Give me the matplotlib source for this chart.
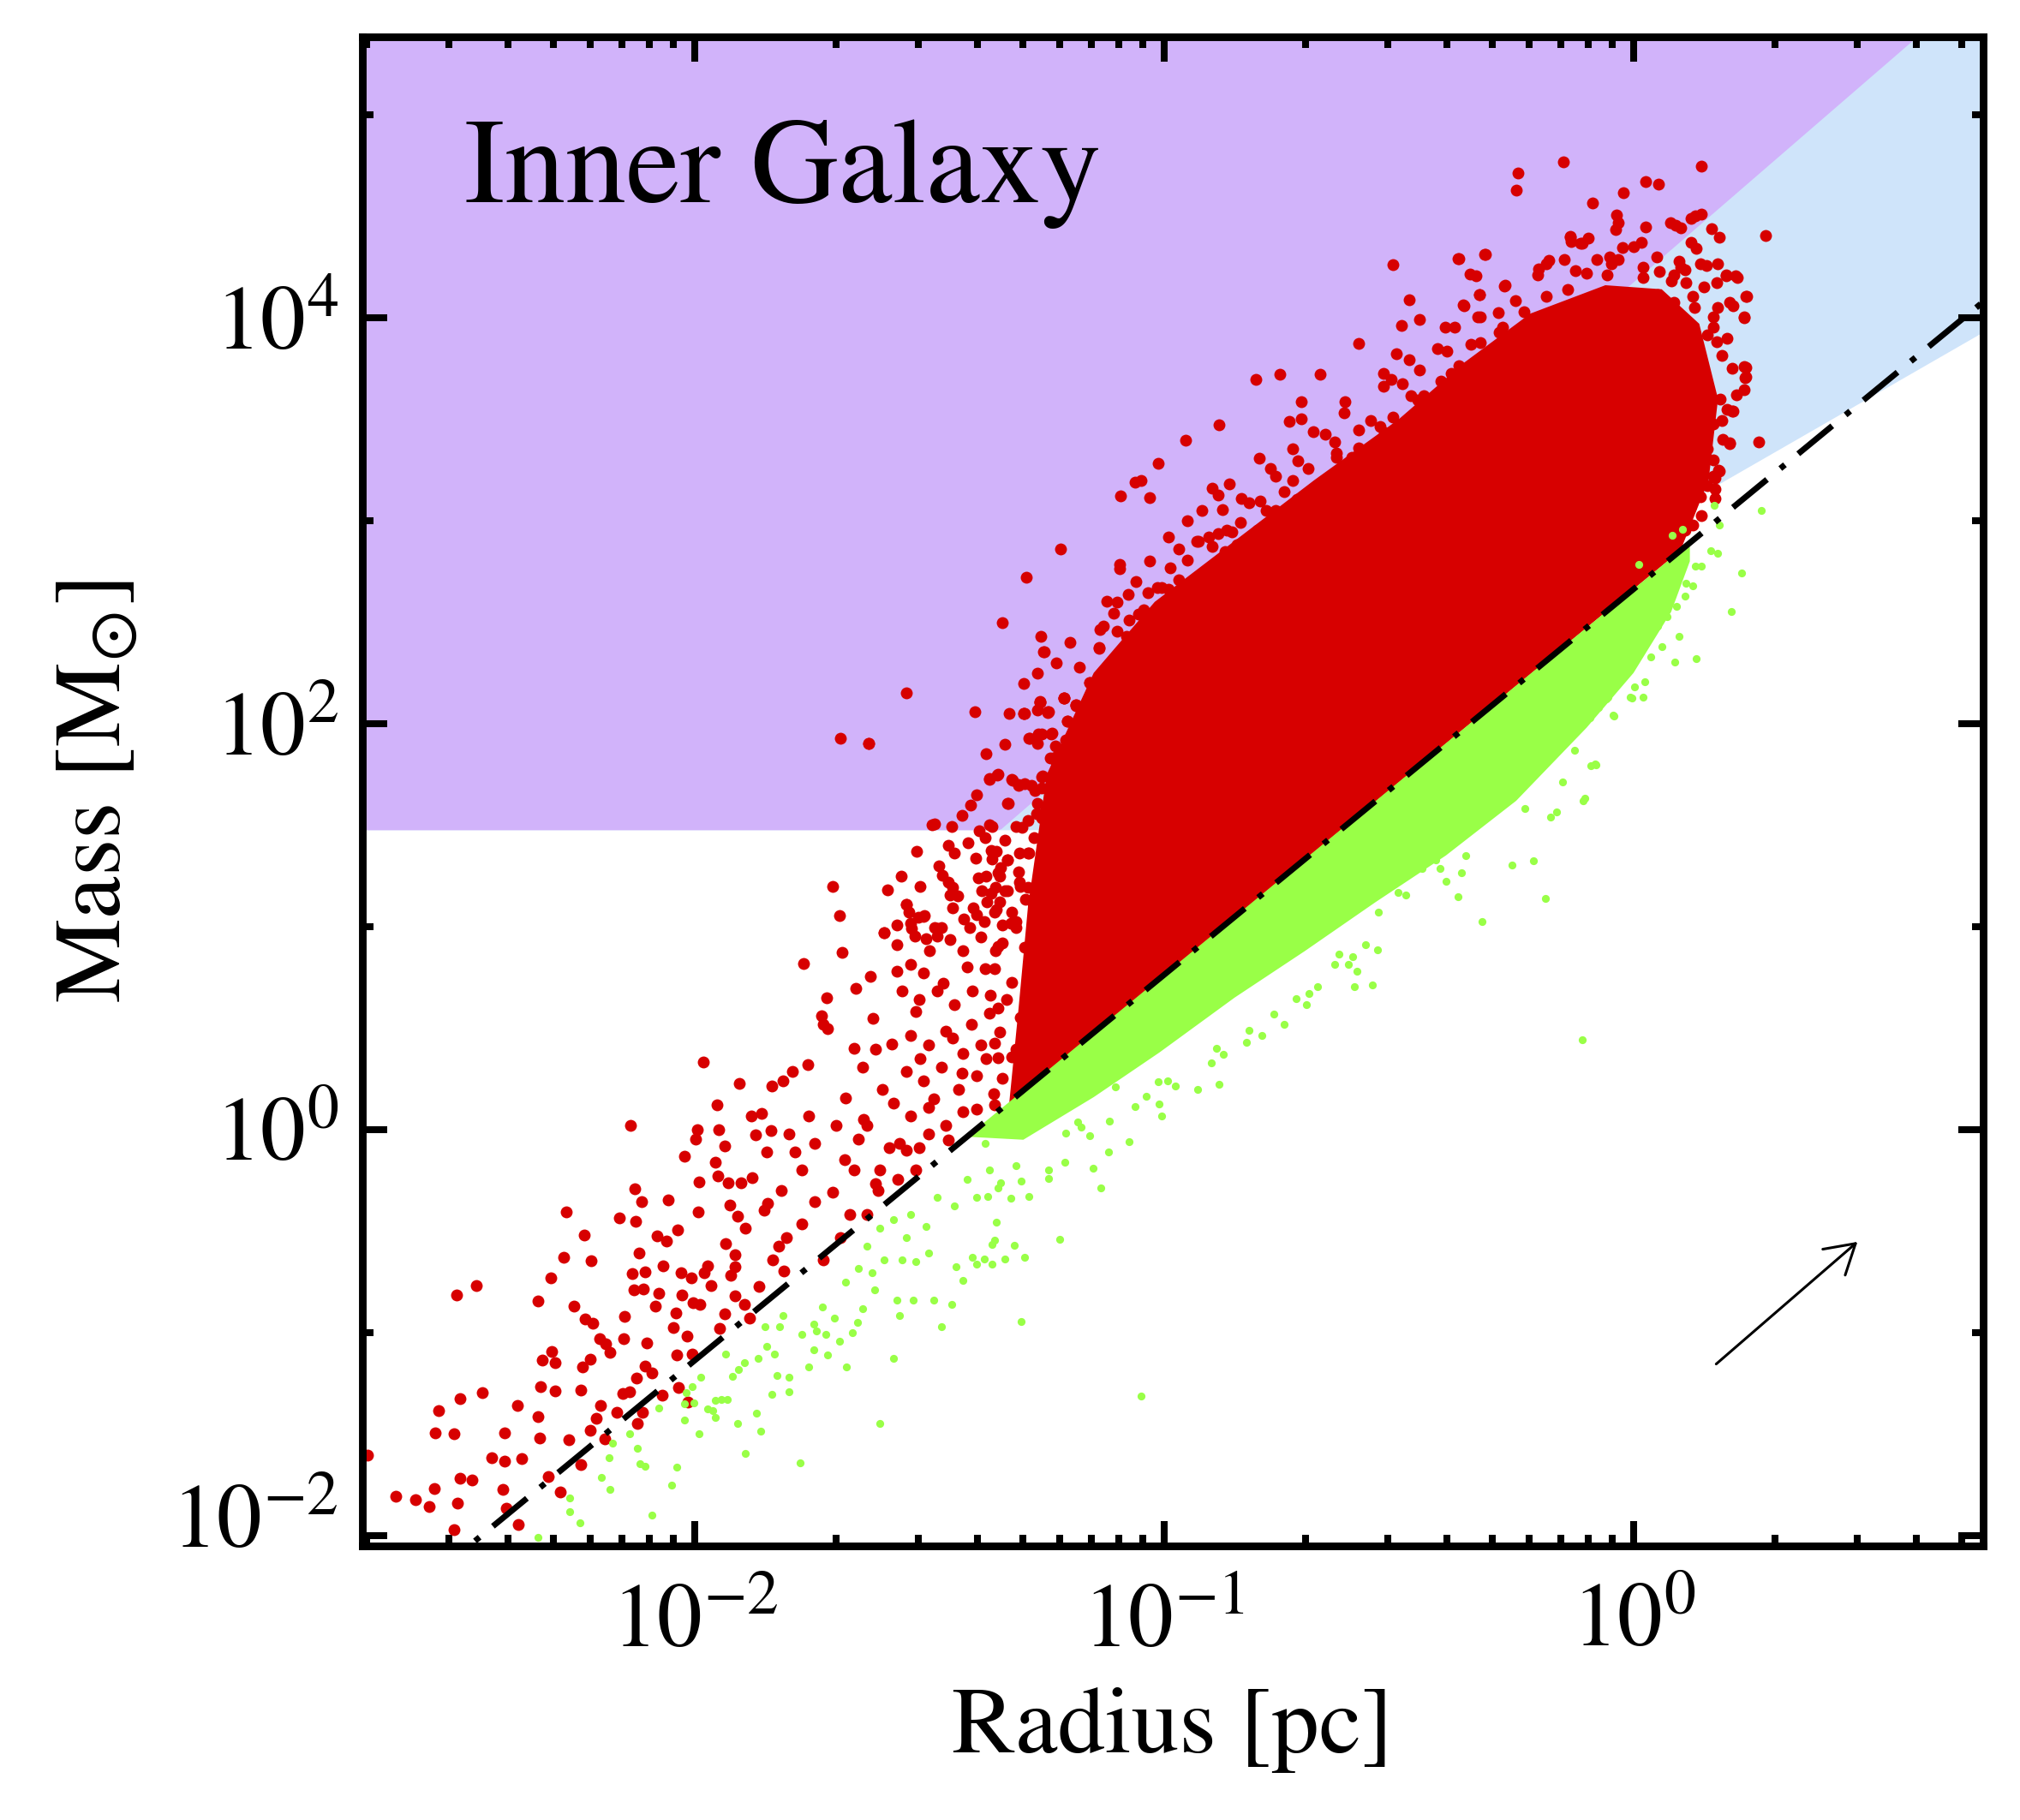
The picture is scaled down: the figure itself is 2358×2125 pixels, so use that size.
import numpy as np
import matplotlib
matplotlib.use("Agg")
import matplotlib.pyplot as plt
from matplotlib.transforms import ScaledTranslation

plt.rcParams['font.family'] = ['STIXGeneral', 'DejaVu Serif']
plt.rcParams['mathtext.fontset'] = 'stix'

# ---------------- axis setup ----------------
X_LIM = (10 ** -2.708, 10 ** 0.745)
Y_LIM = (10 ** -2.051, 10 ** 5.384)
X_MAJOR = [1e-2, 1e-1, 1e0]
X_MAJOR_LABELS = [r'$10^{-2}$', r'$10^{-1}$', r'$10^{0}$']
X_MINOR = [2e-3, 3e-3, 4e-3, 5e-3, 6e-3, 7e-3, 8e-3, 9e-3,
           2e-2, 3e-2, 4e-2, 5e-2, 6e-2, 7e-2, 8e-2, 9e-2,
           0.2, 0.3, 0.4, 0.5, 0.6, 0.7, 0.8, 0.9,
           2.0, 3.0, 4.0, 5.0]
Y_MAJOR = [1e-2, 1e0, 1e2, 1e4]
Y_MAJOR_LABELS = [r'$10^{-2}$', r'$10^{0}$', r'$10^{2}$', r'$10^{4}$']
Y_MINOR = [1e-1, 1e1, 1e3, 1e5]

# ---------------- threshold relations ----------------
MASS_FLOOR = 30.0            # Msun, lower edge of shaded regions
SIGMA_COEFF = 15048.0        # M = coeff * R^2  (1 g cm^-2)
KP_COEFF, KP_EXP = 870.0, 1.33   # Kauffmann & Pillai
LARSON_COEFF, LARSON_EXP = 460.0, 1.9

# arrow (distance x2)
ARROW_START = (1.5, 0.07)
ARROW_END = (3.0, 0.28)

# ---------------- dense cores (log10 R, log10 M) ----------------
RED_CORE = [(-1.33, 0.13), (-1.31, 0.60), (-1.29, 1.10), (-1.25, 1.75), (-1.15, 2.25),
            (-1.02, 2.60), (-0.85, 2.90), (-0.68, 3.20), (-0.50, 3.50), (-0.36, 3.78),
            (-0.22, 4.02), (-0.06, 4.16), (0.06, 4.14), (0.14, 3.97), (0.18, 3.60),
            (0.16, 3.20), (0.10, 2.853)]
GREEN_CORE = [(-1.42, -0.035), (0.12, 2.891), (0.12, 2.80), (0.08, 2.55), (0.00, 2.25),
              (-0.10, 1.98), (-0.25, 1.62), (-0.40, 1.35), (-0.55, 1.12), (-0.70, 0.88),
              (-0.85, 0.65), (-1.01, 0.38), (-1.15, 0.16), (-1.30, -0.05)]

# ---------------- red sources (log10 R, log10 M) ----------------
RED_LOW = [
    (-2.697, -1.602), (-2.636, -1.807), (-2.594, -1.825), (-2.566, -1.856), (-2.554, -1.767),
    (-2.553, -1.494), (-2.545, -1.383), (-2.512, -1.500), (-2.508, -0.813), (-2.505, -1.840),
    (-2.513, -1.973), (-2.500, -1.326), (-2.500, -1.719), (-2.474, -1.728), (-2.465, -0.769),
    (-2.453, -1.295), (-2.433, -1.615), (-2.409, -1.772), (-2.406, -1.496), (-2.406, -1.635),
    (-2.401, -1.867), (-2.377, -1.359), (-2.375, -1.944), (-2.369, -1.619), (-2.334, -0.844),
    (-2.334, -1.416), (-2.331, -1.520), (-2.329, -1.266), (-2.325, -1.136), (-2.312, -1.710),
    (-2.307, -0.732), (-2.305, -1.092), (-2.297, -1.149), (-2.297, -1.286), (-2.287, -1.785),
    (-2.279, -0.630), (-2.273, -0.407), (-2.268, -1.529), (-2.257, -0.871), (-2.242, -1.650),
    (-2.242, -1.284), (-2.239, -1.171), (-2.235, -0.520), (-2.233, -0.935), (-2.220, -0.646),
    (-2.217, -0.955), (-2.223, -1.131), (-2.223, -1.482), (-2.210, -1.421), (-2.203, -1.028),
    (-2.201, -1.357), (-2.192, -1.524), (-2.189, -1.054), (-2.181, -1.096), (-2.166, -1.394),
    (-2.160, -0.434), (-2.153, -1.301), (-2.151, -1.028), (-2.150, -0.922), (-2.139, -1.290),
    (-2.136, 0.019), (-2.134, -0.710), (-2.130, -0.791), (-2.128, -0.290), (-2.126, -0.454),
    (-2.124, -1.224), (-2.122, -1.449), (-2.119, -0.608), (-2.113, -0.354), (-2.111, -1.392),
    (-2.109, -0.787), (-2.106, -0.701), (-2.103, -1.052), (-2.105, -1.164), (-2.091, -1.200),
    (-2.084, -0.869), (-2.080, -0.524), (-2.076, -0.807), (-2.069, -1.308), (-2.067, -0.670),
    (-2.060, -0.548), (-2.056, -0.345), (-2.045, -0.975), (-2.040, -0.904), (-2.038, -1.109),
    (-2.035, -1.270), (-2.036, -0.493), (-2.030, -0.707), (-2.028, -0.813), (-2.021, -0.133),
    (-2.017, -1.017), (-2.015, -1.341), (-2.008, -0.730), (-2.005, -1.105), (-2.003, -0.853),
    (-1.998, -0.047), (-1.994, 0.000), (-1.992, -0.405), (-1.990, -0.259), (-1.989, -0.862),
    (-1.982, 0.333), (-1.980, -0.703), (-1.972, -0.670), (-1.966, -0.767), (-1.957, -0.162),
    (-1.952, 0.121), (-1.951, -0.228), (-1.948, 0.000), (-1.947, -0.981), (-1.936, -0.080),
    (-1.936, -0.906), (-1.934, -0.560), (-1.926, -0.372), (-1.928, -0.264), (-1.923, -0.718),
    (-1.915, -0.818), (-1.914, -0.674), (-1.914, -0.615), (-1.909, -0.427), (-1.905, 0.227),
    (-1.902, -0.261), (-1.894, -0.862), (-1.893, -0.487), (-1.883, -0.928), (-1.879, 0.068),
    (-1.877, -0.235), (-1.870, -0.027), (-1.863, -0.774), (-1.858, 0.081), (-1.853, -0.398),
    (-1.847, -0.111), (-1.845, -0.365), (-1.838, -0.005), (-1.836, 0.213), (-1.834, -0.641),
    (-1.821, -0.575), (-1.816, -0.299), (-1.812, 0.242), (-1.810, -0.696), (-1.805, -0.531),
    (-1.799, -0.023), (-1.792, 0.286), (-1.786, -0.111), (-1.769, 0.820), (-1.759, 0.321),
    (-1.719, 0.648), (-1.707, 1.198), (-1.692, 1.055), (-1.686, 0.871), (-1.730, 0.562),
    (-1.726, 0.518), (-1.717, 0.496), (-1.758, 0.065), (-1.744, -0.067), (-1.772, -0.200),
    (-1.744, -0.354), (-1.772, -0.465), (-1.726, -0.641), (-1.689, -0.531), (-1.670, -0.420),
    (-1.656, 0.695), (-1.625, 0.754), (-1.597, 0.971), (-1.569, 0.909), (-1.549, 1.110),
    (-1.512, 1.052), (-1.540, 1.015), (-1.614, 0.397), (-1.642, 0.308), (-1.679, 0.154),
    (-1.633, 0.021), (-1.586, -0.089), (-1.661, -0.200), (-1.614, -0.266), (-1.651, -0.045),
    (-1.698, 0.021), (-1.707, -0.310),
]
RED_TAIL_DENSE = [
    (-1.540, 0.816), (-1.512, 0.772), (-1.484, 0.993), (-1.456, 0.938), (-1.428, 0.882),
    (-1.400, 1.059), (-1.381, 0.794), (-1.354, 0.904), (-1.326, 1.015), (-1.558, 0.684),
    (-1.521, 0.639), (-1.484, 0.684), (-1.447, 0.617), (-1.409, 0.684), (-1.372, 0.573),
    (-1.335, 0.639), (-1.540, 0.463), (-1.502, 0.419), (-1.465, 0.485), (-1.428, 0.375),
    (-1.391, 0.419), (-1.354, 0.352), (-1.316, 0.397), (-1.549, 0.286), (-1.512, 0.242),
    (-1.474, 0.308), (-1.437, 0.198), (-1.400, 0.264), (-1.363, 0.176), (-1.577, 0.132),
    (-1.540, 0.065), (-1.502, 0.110), (-1.465, 0.021), (-1.428, 0.087), (-1.563, -0.067),
    (-1.521, -0.089), (-1.605, -0.200), (-1.568, -0.244), (-1.530, -0.200), (-1.633, -0.420),
    (-1.502, -0.023),
    (-1.372, 1.501), (-1.367, 1.372), (-1.334, 1.329), (-1.288, 1.361), (-1.353, 1.264),
    (-1.307, 1.200), (-1.339, 1.178), (-1.260, 1.264), (-1.362, 1.070), (-1.316, 1.027),
    (-1.279, 1.113), (-1.344, 0.920), (-1.297, 0.898), (-1.260, 0.963), (-1.362, 0.791),
    (-1.325, 0.726), (-1.279, 0.791), (-1.353, 0.597), (-1.307, 0.554), (-1.260, 0.640),
    (-1.362, 0.425), (-1.325, 0.360), (-1.279, 0.468), (-1.344, 0.252), (-1.241, 0.489),
    (-1.288, 0.317), (-1.362, 0.123), (-1.241, 0.338),
    (-1.62, 0.55), (-1.60, 0.20), (-1.58, 0.42), (-1.57, 0.78), (-1.55, -0.10),
    (-1.53, 0.58), (-1.52, 0.35), (-1.50, 0.88), (-1.49, 0.15), (-1.47, 0.72),
    (-1.46, -0.05), (-1.45, 0.45), (-1.44, 1.15), (-1.43, 0.28), (-1.42, 0.80),
    (-1.41, 0.52), (-1.40, 0.10), (-1.39, 0.95), (-1.38, 0.35), (-1.38, 1.25),
    (-1.37, 0.66), (-1.36, 0.88), (-1.35, 0.48), (-1.35, 1.12), (-1.64, 0.05),
    (-1.66, 0.40), (-1.68, -0.15), (-1.61, -0.30), (-1.59, 1.18), (-1.56, 1.25),
    (-1.52, 1.20), (-1.48, 1.30), (-1.46, 1.40), (-1.43, 1.55), (-1.40, 1.65),
    (-1.38, 1.85), (-1.34, 1.90), (-1.33, 2.05), (-1.30, 2.20), (-1.27, 2.25),
    (-1.23, 2.30), (-1.20, 2.40), (-1.18, 2.28), (-1.13, 2.48), (-1.10, 2.60),
    (-1.06, 2.70), (-1.03, 2.80), (-0.99, 2.92), (-0.95, 3.00), (-0.92, 3.05),
]
RED_MID = [
    (-1.257, 2.352), (-1.139, 2.373), (-1.549, 2.152), (-1.629, 1.903), (-1.403, 2.057),
    (-1.264, 2.106), (-1.214, 2.127), (-1.188, 2.092), (-1.297, 2.050), (-1.270, 2.066),
    (-1.248, 2.057), (-1.206, 2.013), (-1.158, 2.204), (-1.153, 2.172), (-1.135, 2.200),
    (-1.159, 2.124), (-1.097, 2.277), (-1.082, 2.338), (-1.067, 2.334), (-1.077, 2.291),
    (-1.051, 2.256), (-1.077, 2.218), (-1.097, 2.200), (-1.132, 2.085), (-1.150, 2.021),
    (-1.184, 1.972), (-1.169, 1.965), (-1.240, 1.951), (-1.287, 1.926), (-1.270, 1.902),
    (-1.260, 1.947), (-1.231, 1.888), (-1.196, 1.923), (-1.181, 1.902), (-1.163, 1.895),
    (-1.147, 1.951), (-1.242, 1.832), (-1.229, 1.811), (-1.211, 1.811), (-1.184, 1.846),
    (-1.373, 1.730), (-1.355, 1.747), (-1.322, 1.723), (-1.310, 1.698), (-1.297, 1.705),
    (-1.259, 1.743), (-1.276, 1.670), (-1.260, 1.684), (-1.232, 1.719), (-1.217, 1.663),
    (-1.223, 1.628), (-1.413, 1.597), (-1.332, 1.609), (-1.270, 1.607), (-1.254, 1.571),
    (-1.271, 1.557), (-1.290, 1.522), (-1.315, 1.494), (-1.302, 1.487), (-1.260, 1.536),
    (-1.495, 1.501), (-1.453, 1.494), (-1.367, 1.494), (-1.394, 1.473), (-1.381, 1.438),
    (-1.418, 1.413), (-1.339, 1.424), (-1.527, 1.370), (-1.447, 1.361), (-1.401, 1.337),
    (-1.369, 1.375), (-1.357, 1.370), (-1.333, 1.328), (-1.348, 1.290), (-1.366, 1.332),
    (-1.308, 1.361), (-1.290, 1.361), (-1.278, 1.438), (-1.473, 1.254), (-1.460, 1.220),
    (-1.451, 1.192), (-1.395, 1.241), (-1.456, 1.155), (-1.389, 1.178), (-1.369, 1.164),
    (-1.360, 1.192), (-1.351, 1.248), (-1.333, 1.178), (-1.310, 1.269), (-1.308, 1.220),
    (-1.290, 1.192), (-1.451, 1.093), (-1.549, 1.110), (-1.544, 1.072), (-1.524, 1.044),
    (-1.511, 1.056), (-1.570, 1.009), (-1.597, 0.971), (-1.539, 0.991), (-1.531, 0.953),
    (-1.489, 0.995), (-1.475, 0.995), (-1.427, 1.037), (-1.415, 0.995), (-1.406, 1.093),
    (-1.383, 1.023), (-1.378, 1.121), (-1.357, 1.086), (-1.345, 1.009), (-1.324, 1.072),
    (-1.296, 1.136), (-1.278, 1.086), (-1.254, 1.136), (-1.229, 1.093), (-1.315, 0.995),
    (-1.260, 0.995), (-1.507, 0.939), (-1.483, 0.953), (-1.690, 1.928), (-1.630, 1.903),
    (-1.489, 1.506),
    (-1.299, 2.050), (-1.265, 2.104), (-1.246, 2.057), (-1.213, 2.125), (-1.187, 2.091),
    (-1.158, 2.136), (-1.206, 2.013), (-1.288, 1.927), (-1.269, 1.947), (-1.239, 1.953),
    (-1.209, 1.921), (-1.325, 1.727), (-1.260, 1.738), (-1.372, 1.727), (-1.353, 1.749),
    (-1.334, 1.609), (-1.311, 1.695), (-1.283, 1.695), (-1.232, 1.835), (-1.195, 1.878),
    (-1.181, 1.846),
]
RED_UPPER = [
    (-0.149, 4.766), (-0.247, 4.712), (-0.249, 4.627), (-0.135, 4.399), (-0.112, 4.367),
    (-0.512, 4.262), (-0.374, 4.292), (-0.318, 4.314), (-0.349, 4.216), (-0.335, 4.207),
    (-0.275, 4.154), (-0.181, 4.282), (-0.203, 4.239), (-0.123, 4.232), (-0.478, 4.090),
    (-0.329, 4.113), (-0.363, 4.062), (-0.251, 4.085), (-0.495, 3.962), (-0.456, 3.991),
    (-0.402, 3.953), (-0.382, 3.953), (-0.326, 4.006), (-0.289, 4.024), (-0.585, 3.872),
    (-0.505, 3.821), (-0.417, 3.847), (-0.398, 3.836), (-0.478, 3.793), (-0.533, 3.727),
    (-0.456, 3.742), (-0.517, 3.695), (-0.533, 3.661), (-0.493, 3.674), (-0.805, 3.695),
    (-0.754, 3.721), (-0.668, 3.721), (-0.475, 3.614), (-0.459, 3.595), (-0.389, 3.727),
    (-0.708, 3.586), (-0.614, 3.586), (-0.617, 3.533), (-0.883, 3.473), (-0.733, 3.488),
    (-0.708, 3.501), (-0.560, 3.492), (-0.586, 3.445), (-0.954, 3.397), (-0.683, 3.439),
    (-0.656, 3.426), (-0.636, 3.388), (-0.512, 3.510), (-0.531, 3.435), (-0.586, 3.360),
    (-1.012, 3.282), (-0.797, 3.309), (-0.726, 3.354), (-0.773, 3.256), (-0.763, 3.219),
    (-0.715, 3.294), (-0.693, 3.256), (-0.633, 3.313), (-0.600, 3.313), (-0.568, 3.332),
    (-1.061, 3.190), (-1.049, 3.200), (-1.093, 3.124), (-1.031, 3.115), (-0.897, 3.158),
    (-0.884, 3.128), (-0.862, 3.181), (-0.836, 3.111), (-0.875, 3.055), (-0.796, 3.096),
    (-0.745, 3.143), (-0.782, 3.049), (-0.717, 3.105), (-0.689, 3.077), (-1.221, 2.861),
    (-1.294, 2.723), (-1.094, 2.785), (-1.094, 2.763), (-1.344, 2.497), (-1.262, 2.431),
    (-1.256, 2.352), (-1.123, 2.601), (-1.108, 2.544), (-1.076, 2.635), (-1.136, 2.465),
    (-1.101, 2.456), (-1.139, 2.375), (-1.074, 2.512), (-1.054, 2.541), (-1.035, 2.644),
    (-1.015, 2.672), (-0.991, 2.663), (-0.968, 2.710), (-0.938, 2.644), (-0.926, 2.898),
    (-0.905, 2.921), (-0.897, 2.874), (-0.870, 2.846), (-0.844, 2.880), (-0.884, 2.936),
    (-0.856, 2.945), (-1.026, 2.450), (-1.026, 2.405), (-1.047, 2.409), (-1.080, 2.333),
    (-1.066, 2.268), (-1.099, 2.220), (-1.139, 2.202), (-1.159, 2.202), (-1.154, 2.164),
    (-1.187, 2.089), (-1.214, 2.126), (-1.264, 2.108), (-1.248, 2.055), (-1.299, 2.051),
    (-0.987, 2.484), (-0.968, 2.559), (-0.949, 2.522), (-0.959, 2.597), (-0.912, 2.578),
]
RED_EDGE = [
    (-0.987, 2.767), (-0.950, 2.804), (-0.912, 2.748), (-0.968, 2.861), (-0.838, 2.993),
    (-0.801, 2.955), (-0.763, 3.049), (-0.726, 3.011), (-0.680, 3.124), (-0.642, 3.162),
    (-0.605, 3.237), (-0.568, 3.275), (-0.531, 3.350), (-0.493, 3.388), (-0.456, 3.463),
    (-0.419, 3.539), (-0.382, 3.614), (-0.344, 3.689), (-0.307, 3.765), (-0.270, 3.821),
    (-0.233, 3.878), (-0.196, 3.915), (-0.158, 3.991), (-0.121, 4.047), (-0.447, 3.614),
    (-0.410, 3.689), (-0.372, 3.765), (-0.326, 3.878), (-0.279, 3.953), (-0.233, 4.028),
    (-0.186, 4.104), (-0.140, 4.141), (-0.540, 3.463), (-0.633, 3.331), (-0.726, 3.200),
    (-0.819, 3.087), (-0.866, 2.955), (-0.931, 2.898), (-1.005, 2.672), (-1.043, 2.560),
    (-1.080, 2.428), (-1.117, 2.296), (-1.154, 2.145),
    (-0.050, 4.300), (0.000, 4.350), (0.050, 4.300), (0.100, 4.250), (0.150, 4.150),
    (0.180, 4.050), (-0.100, 4.220), (0.020, 4.200), (0.080, 4.180), (0.130, 4.050),
    (0.200, 3.900), (0.210, 3.750), (0.200, 3.550), (0.190, 3.400), (0.170, 3.300),
    (0.220, 3.620),
]
RED_RIGHT = [
    (0.145, 4.746), (0.026, 4.669), (0.053, 4.657), (-0.021, 4.616), (-0.088, 4.567),
    (-0.037, 4.507), (-0.033, 4.469), (-0.038, 4.435), (0.025, 4.448), (0.079, 4.469),
    (0.089, 4.454), (0.101, 4.441), (0.122, 4.488), (0.131, 4.501), (0.145, 4.511),
    (0.166, 4.439), (0.183, 4.396), (0.281, 4.403), (-0.135, 4.398), (-0.133, 4.375),
    (-0.110, 4.366), (-0.096, 4.394), (-0.024, 4.345), (0.017, 4.369), (-0.316, 4.313),
    (-0.372, 4.292), (0.122, 4.373), (0.134, 4.341), (0.097, 4.279), (0.143, 4.266),
    (0.156, 4.256), (0.179, 4.266), (0.197, 4.209), (0.221, 4.196), (0.177, 4.172),
    (0.055, 4.228), (0.086, 4.209), (0.110, 4.237), (0.112, 4.172), (0.126, 4.106),
    (0.086, 4.077), (0.240, 4.104), (0.204, 4.077), (0.212, 4.059), (0.235, 3.998),
    (0.170, 4.006), (0.170, 3.955), (0.189, 3.814), (0.178, 3.880), (0.158, 3.917),
    (0.239, 3.757), (0.239, 3.710), (0.235, 3.644), (0.212, 3.541), (0.204, 3.381),
    (0.267, 3.386), (0.185, 3.597), (0.189, 3.494), (0.170, 3.475), (0.158, 3.352),
    (0.181, 3.249), (0.170, 3.221), (0.158, 3.174), (0.174, 3.155), (0.143, 3.117),
    (0.128, 3.117), (0.120, 3.061), (-0.148, 4.285), (-0.186, 4.266), (-0.205, 4.209),
    (-0.274, 4.158), (-0.328, 4.115), (-0.362, 4.059), (-0.332, 4.002), (-0.286, 3.927),
    (-0.347, 3.870), (-0.255, 3.899), (-0.224, 3.946), (-0.186, 3.983), (-0.148, 4.021),
    (-0.110, 4.040), (-0.071, 4.096), (-0.056, 4.209), (-0.079, 4.285), (-0.048, 4.266),
    (-0.033, 4.285), (0.021, 4.247), (0.051, 4.115), (0.112, 3.964), (0.128, 3.908),
    (0.241, 4.107), (0.235, 4.002), (0.236, 3.758), (0.238, 3.704), (0.211, 3.539),
    (0.205, 3.385), (0.218, 4.206), (0.197, 4.206), (0.182, 3.246), (0.173, 3.211),
    (0.173, 3.111), (0.145, 3.027), (0.127, 2.977), (0.109, 2.952),
]

# ---------------- green sources (log10 R, log10 M) ----------------
GREEN_LOW = [
    (-2.334, -2.010), (-2.266, -1.816), (-2.266, -1.882), (-2.245, -1.937), (-2.198, -1.712),
    (-2.180, -1.774), (-2.182, -1.615), (-2.175, -1.546), (-2.139, -1.498), (-2.122, -1.569),
    (-2.117, -1.648), (-2.105, -1.657), (-2.091, -1.900), (-2.076, -1.370), (-2.050, -1.752),
    (-2.038, -1.661), (-2.022, -1.352), (-2.021, -1.430), (-2.019, -1.297), (-2.005, -1.266),
    (-2.001, -1.348), (-1.990, -1.498), (-1.987, -1.220), (-1.972, -1.377), (-1.961, -1.385),
    (-1.957, -1.418), (-1.956, -1.332), (-1.944, -1.330), (-1.934, -1.105), (-1.931, -1.330),
    (-1.920, -1.215), (-1.909, -1.447), (-1.906, -1.180), (-1.895, -1.149), (-1.893, -1.595),
    (-1.869, -1.396), (-1.865, -1.127), (-1.859, -1.485), (-1.851, -0.972), (-1.847, -1.067),
    (-1.836, -1.304), (-1.830, -1.105), (-1.824, -1.211), (-1.812, -0.917), (-1.799, -1.293),
    (-1.799, -1.220), (-1.776, -1.641), (-1.771, -1.008), (-1.758, -1.169), (-1.746, -1.083),
    (-1.746, -0.957), (-1.740, -0.994), (-1.728, -0.873), (-1.721, -1.010), (-1.717, -1.109),
    (-1.703, -0.928), (-1.691, -1.043), (-1.677, -1.169), (-1.665, -1.001), (-1.653, -0.950),
    (-1.642, -0.884), (-1.622, -0.707), (-1.617, -0.789), (-1.605, -1.447), (-1.597, -0.641),
    (-1.577, -1.127), (-1.569, -0.840), (-1.563, -0.917), (-1.558, -0.641), (-1.535, -0.840),
    (-1.530, -0.652), (-1.502, -0.608), (-1.491, -0.840), (-1.475, -0.972), (-1.453, -0.862),
    (-1.444, -0.674), (-1.428, -0.745), (-1.409, -0.630), (-1.400, -0.663), (-1.383, -0.637),
    (-1.366, -0.564), (-1.340, -0.637), (-1.577, -0.442), (-1.540, -0.420), (-1.507, -0.476),
    (-1.549, -0.531), (-1.484, -0.332), (-1.447, -0.376), (-1.419, -0.244), (-1.400, -0.332),
    (-1.372, -0.200), (-1.354, -0.288), (-1.316, -0.178), (-1.335, -0.023), (-1.381, -0.067),
    (-1.605, -0.487), (-1.633, -0.575), (-1.651, -0.685), (-1.679, -0.752), (-1.819, -0.972),
    (-1.304, -0.946), (-1.049, -1.314),
]
GREEN_MID = [
    (-0.003, 2.125), (-0.042, 2.039), (-0.059, 2.121), (-0.082, 1.802), (-0.091, 1.792),
    (-0.108, 1.619), (-0.126, 1.867), (-0.152, 1.712), (-0.164, 1.566), (-0.177, 1.540),
    (-0.187, 1.139), (-0.214, 1.324), (-0.231, 1.583), (-0.259, 1.303), (-0.322, 1.027),
    (-0.331, 1.548), (-0.338, 1.501), (-0.357, 1.350), (-0.366, 1.264), (-0.374, 1.146),
    (-0.399, 1.225), (-0.413, 1.286), (-0.422, 1.329), (-0.450, 1.286), (-0.485, 1.157),
    (-0.501, 1.167), (-0.515, 1.210), (-0.543, 1.070), (-0.545, 0.887), (-0.556, 0.713),
    (-0.571, 0.909), (-0.590, 0.780), (-0.594, 0.704), (-0.599, 0.851), (-0.608, 0.812),
    (-0.627, 0.866), (-0.636, 0.812), (-0.673, 0.704), (-0.692, 0.672), (-0.697, 0.614),
    (-0.711, 0.941), (-0.718, 0.644), (-0.745, 0.519), (-0.767, 0.571), (-0.792, 0.463),
    (-0.820, 0.489), (-0.824, 0.429), (-0.874, 0.371), (-0.889, 0.399), (-0.883, 0.224),
    (-0.899, 0.328), (-0.928, 0.198), (-0.976, 0.216), (-0.992, 0.242), (-1.013, 0.235),
    (-1.006, 0.069), (-1.010, 0.127), (-1.038, 0.166), (-1.062, 0.112), (-1.074, -0.060),
    (-1.104, 0.209), (-1.116, 0.041), (-1.118, -0.109), (-1.134, -0.286), (-1.152, -0.189),
    (-1.158, -0.028), (-1.176, 0.011), (-1.185, 0.037), (-1.209, -0.017), (-1.211, -0.161),
    (-1.223, -0.540), (-1.246, -0.200), (-1.246, -0.243), (-1.288, -0.329), (-1.297, -0.630),
    (-1.305, -0.254), (-1.320, -0.570), (-1.327, -0.340), (-1.348, -0.264), (-1.358, -0.458),
    (-1.362, -0.544), (-1.367, -0.663), (-1.376, -0.329), (-0.110, 0.442),
]
GREEN_RIGHT = [
    (0.171, 3.077), (0.273, 3.052), (0.179, 2.838), (0.230, 2.743), (0.209, 2.554),
    (0.133, 2.320), (0.088, 2.305), (0.024, 2.205), (0.021, 2.131), (0.002, 2.181),
    (-0.007, 2.131), (-0.043, 2.041), (-0.080, 1.797), (-0.104, 1.633), (0.051, 2.479),
    (0.072, 2.529), (0.091, 2.579), (0.109, 2.629), (0.127, 2.678), (0.097, 2.429),
    (0.060, 2.380), (0.036, 2.330), (-0.013, 2.280), (-0.055, 2.131), (-0.074, 2.081),
    (-0.092, 2.031), (0.145, 2.778), (0.164, 2.853), (0.182, 2.977), (0.011, 2.786),
    (0.105, 2.957), (0.082, 2.929), (0.132, 2.778), (0.112, 2.690),
]

RED_COLOR = '#d70000'
GREEN_COLOR = '#99ff47'
PURPLE_COLOR = '#d1b3fa'
BLUE_COLOR = '#cfe4fa'


def unlog(pts):
    a = np.array(pts, dtype=float)
    return 10 ** a[:, 0], 10 ** a[:, 1]


fig = plt.figure(figsize=(11.79, 10.625), dpi=200)
ax = fig.add_axes([0.1794, 0.1506, 0.8024, 0.8292])
ax.set_xscale('log')
ax.set_yscale('log')
ax.set_xlim(*X_LIM)
ax.set_ylim(*Y_LIM)

# shaded regions
r_grid = np.logspace(np.log10(X_LIM[0]), np.log10(X_LIM[1]), 600)
blue_low = np.maximum(MASS_FLOOR, KP_COEFF * r_grid ** KP_EXP)
ax.fill_between(r_grid, blue_low, Y_LIM[1], color=BLUE_COLOR, lw=0, zorder=1)
purple_low = np.maximum(MASS_FLOOR, SIGMA_COEFF * r_grid ** 2)
ax.fill_between(r_grid, purple_low, Y_LIM[1], color=PURPLE_COLOR, lw=0, zorder=1.1)

# red sources
cx, cy = unlog(RED_CORE)
ax.fill(cx, cy, color=RED_COLOR, lw=0, zorder=2)
for group in (RED_LOW, RED_TAIL_DENSE, RED_MID, RED_UPPER, RED_EDGE, RED_RIGHT):
    x, y = unlog(group)
    ax.scatter(x, y, s=25, c=RED_COLOR, linewidths=0, zorder=2.1)

# green sources
gx, gy = unlog(GREEN_CORE)
ax.fill(gx, gy, color=GREEN_COLOR, lw=0, zorder=2.5)
for group in (GREEN_LOW, GREEN_MID, GREEN_RIGHT):
    x, y = unlog(group)
    ax.scatter(x, y, s=11, c=GREEN_COLOR, linewidths=0, zorder=2.6)

# Larson relation
ax.plot(r_grid, LARSON_COEFF * r_grid ** LARSON_EXP, color='k', lw=2.5,
        dashes=(7.4, 2.9, 1.0, 2.9), zorder=3)

# arrow
ax.annotate('', xy=ARROW_END, xytext=ARROW_START,
            arrowprops=dict(arrowstyle='->,head_length=0.5,head_width=0.3',
                            lw=1.1, color='k', mutation_scale=24,
                            shrinkA=0, shrinkB=0), zorder=4)

ax.text(0.063, 0.8905, 'Inner Galaxy', transform=ax.transAxes, fontsize=51,
        ha='left', va='baseline', zorder=5)

# ticks
ax.set_xticks(X_MAJOR, X_MAJOR_LABELS)
ax.set_xticks(X_MINOR, minor=True)
ax.set_yticks(Y_MAJOR, Y_MAJOR_LABELS)
ax.set_yticks(Y_MINOR, minor=True)
ax.xaxis.set_minor_formatter(plt.NullFormatter())
ax.yaxis.set_minor_formatter(plt.NullFormatter())
ax.tick_params(which='both', direction='in', top=True, right=True, width=2.9,
               labelsize=38)
ax.tick_params(which='major', length=10.5)
ax.tick_params(which='minor', length=4.8)
ax.tick_params(axis='x', which='major', pad=16)
ax.tick_params(axis='y', which='major', pad=10)
for sp in ax.spines.values():
    sp.set_linewidth(3.2)
    sp.set_zorder(6)

ax.set_xlabel('Radius [pc]', fontsize=40, labelpad=9)
ax.set_ylabel(r'Mass [M$_{\odot}$]', fontsize=40, labelpad=13)

# lowest y label sits slightly higher, as in the original
lab = ax.yaxis.get_major_ticks()[0].label1
lab.set_transform(lab.get_transform() + ScaledTranslation(0, 23 / 200, fig.dpi_scale_trans))

fig.savefig('out.png', dpi=200)
